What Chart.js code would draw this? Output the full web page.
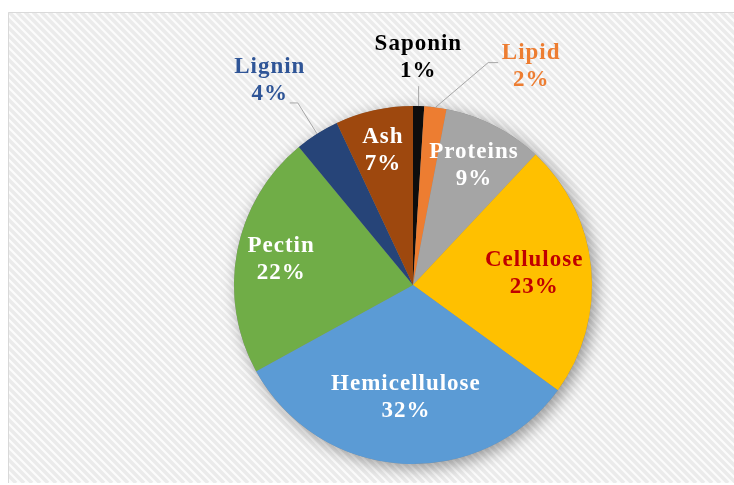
<!DOCTYPE html>
<html>
<head>
<meta charset="utf-8">
<script src="https://cdn.jsdelivr.net/npm/chart.js@4"></script>
<style>
  html, body { margin: 0; padding: 0; background: #fff; }
  #wrap { width: 734px; height: 485px; }
</style>
</head>
<body>
<div id="wrap"><canvas id="pie" width="734" height="485"></canvas></div>
<script>
// data
const labels = ['Saponin', 'Lipid', 'Proteins', 'Cellulose', 'Hemicellulose', 'Pectin', 'Lignin', 'Ash'];
const values = [1, 2, 9, 23, 32, 22, 4, 7];
const sliceColors = ['#0d0d0d', '#ED7D31', '#A5A5A5', '#FFC000', '#5B9BD5', '#70AD47', '#264478', '#9E480E'];
const textColors  = ['#000000', '#ED7D31', '#ffffff', '#C00000', '#ffffff', '#ffffff', '#2F5597', '#ffffff'];

// label placement: inside labels sit at a fraction of the radius on the mid angle,
// outside ones get a spot relative to the centre (in radius units) plus a leader line
const insideRadius = { Proteins: 0.75, Cellulose: 0.68, Hemicellulose: 0.63, Pectin: 0.75, Ash: 0.77 };
const outsideSpot  = { Saponin: [0.03, -1.27], Lipid: [0.66, -1.22], Lignin: [-0.80, -1.14] };

const FONT = 'bold 23px "Liberation Serif", "Times New Roman", serif';
const LINE_H = 27;

const backgroundPlugin = {
    id: 'stripes',
    beforeDraw(chart) {
        const { ctx, width, height } = chart;
        ctx.save();
        ctx.fillStyle = '#ffffff';
        ctx.fillRect(0, 0, width, height);
        const fx = 8, fy = 12, fw = width - fx, fh = 483 - fy;
        ctx.beginPath();
        ctx.rect(fx, fy, fw, fh);
        ctx.clip();
        ctx.fillStyle = '#fcfcfc';
        ctx.fillRect(fx, fy, fw, fh);
        ctx.strokeStyle = '#ebebeb';
        ctx.lineWidth = 3.5;
        for (let x = -fh; x < width + 10; x += 8) {
            ctx.beginPath();
            ctx.moveTo(x, fy);
            ctx.lineTo(x + fh, fy + fh);
            ctx.stroke();
        }
        ctx.restore();
        ctx.save();
        ctx.strokeStyle = '#d9d9d9';
        ctx.lineWidth = 1;
        ctx.beginPath();
        ctx.moveTo(width, fy + 0.5);
        ctx.lineTo(fx + 0.5, fy + 0.5);
        ctx.lineTo(fx + 0.5, fy + fh);
        ctx.stroke();
        ctx.restore();
    },
    beforeDatasetsDraw(chart) {
        // soft drop shadow under the pie
        const arc = chart.getDatasetMeta(0).data[0];
        const { ctx } = chart;
        ctx.save();
        ctx.shadowColor = 'rgba(0,0,0,0.4)';
        ctx.shadowBlur = 16;
        ctx.shadowOffsetX = 4;
        ctx.shadowOffsetY = 4;
        ctx.fillStyle = '#888';
        ctx.beginPath();
        ctx.arc(arc.x, arc.y, arc.outerRadius, 0, Math.PI * 2);
        ctx.fill();
        ctx.restore();
    }
};

const labelPlugin = {
    id: 'sliceLabels',
    afterDatasetsDraw(chart) {
        const { ctx } = chart;
        const meta = chart.getDatasetMeta(0);
        ctx.save();
        ctx.font = FONT;
        ctx.letterSpacing = '1px';
        ctx.textAlign = 'center';
        ctx.textBaseline = 'middle';
        meta.data.forEach((arc, i) => {
            const name = labels[i];
            const pct = values[i] + '%';
            const mid = (arc.startAngle + arc.endAngle) / 2;
            const r = arc.outerRadius;
            let lx, ly;
            if (insideRadius[name]) {
                lx = arc.x + Math.cos(mid) * r * insideRadius[name];
                ly = arc.y + Math.sin(mid) * r * insideRadius[name];
            } else {
                const s = outsideSpot[name];
                lx = arc.x + s[0] * r;
                ly = arc.y + s[1] * r;
                // leader line from label to the edge of the slice
                const ex = arc.x + Math.cos(mid) * r;
                const ey = arc.y + Math.sin(mid) * r;
                ctx.strokeStyle = '#a6a6a6';
                ctx.lineWidth = 1;
                ctx.beginPath();
                if (name === 'Saponin') {
                    ctx.moveTo(ex, ly + LINE_H / 2 + 15);
                    ctx.lineTo(ex, ey);
                } else if (name === 'Lipid') {
                    ctx.moveTo(lx - 33, ly - 4);
                    ctx.lineTo(lx - 43, ly - 4);
                    ctx.lineTo(ex, ey);
                } else {
                    ctx.moveTo(lx + 20, ly + 22);
                    ctx.lineTo(lx + 28, ly + 22);
                    ctx.lineTo(ex, ey);
                }
                ctx.stroke();
            }
            ctx.fillStyle = textColors[i];
            ctx.fillText(name, lx, ly - LINE_H / 2);
            ctx.fillText(pct, lx, ly + LINE_H / 2);
        });
        ctx.restore();
    }
};

new Chart(document.getElementById('pie'), {
    type: 'pie',
    data: {
        labels,
        datasets: [{
            data: values,
            backgroundColor: sliceColors,
            borderWidth: 0
        }]
    },
    options: {
        responsive: false,
        animation: false,
        layout: { padding: { left: 234, right: 142, top: 106, bottom: 21 } },
        plugins: {
            legend: { display: false },
            tooltip: { enabled: false }
        }
    },
    plugins: [backgroundPlugin, labelPlugin]
});
</script>
</body>
</html>
